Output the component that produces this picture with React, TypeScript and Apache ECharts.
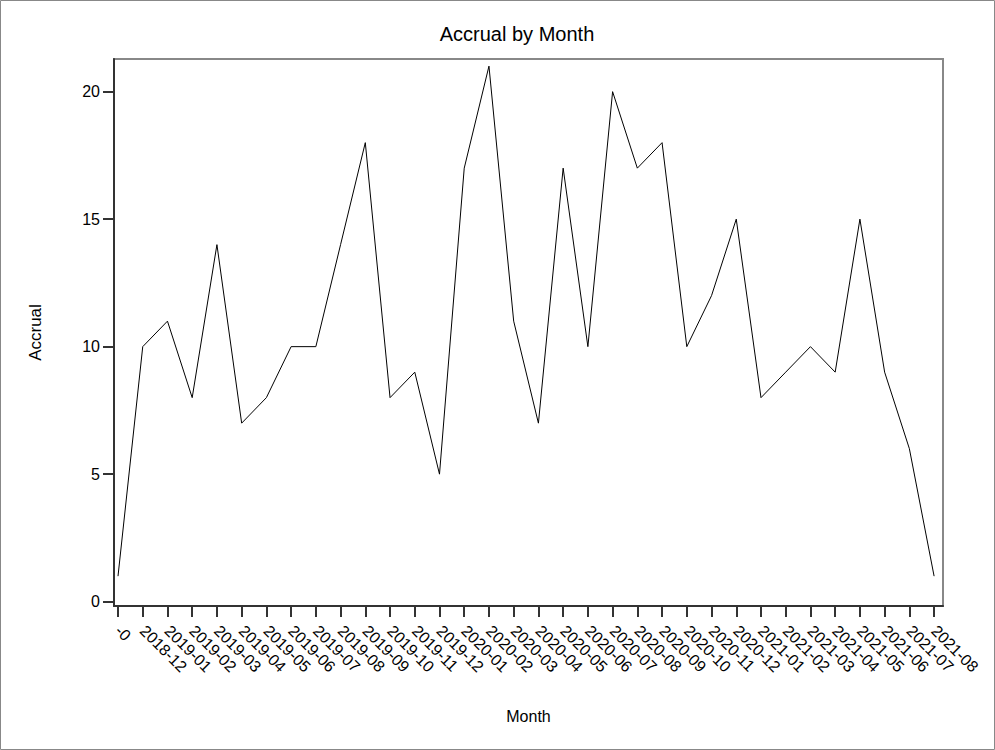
import React, { useEffect, useRef } from "react";
import * as echarts from "echarts";

const categories: string[] = [
  "-0",
  "2018-12",
  "2019-01", "2019-02", "2019-03", "2019-04", "2019-05", "2019-06",
  "2019-07", "2019-08", "2019-09", "2019-10", "2019-11", "2019-12",
  "2020-01", "2020-02", "2020-03", "2020-04", "2020-05", "2020-06",
  "2020-07", "2020-08", "2020-09", "2020-10", "2020-11", "2020-12",
  "2021-01", "2021-02", "2021-03", "2021-04", "2021-05", "2021-06",
  "2021-07", "2021-08",
];

const accrual: number[] = [
  1, 10, 11, 8, 14, 7, 8, 10, 10, 14, 18, 8, 9, 5, 17, 21, 11, 7, 17, 10,
  20, 17, 18, 10, 12, 15, 8, 9, 10, 9, 15, 9, 6, 1,
];

const yTicks: number[] = [0, 5, 10, 15, 20];

const FONT = "'Liberation Sans', Arial, Helvetica, sans-serif";

export default function App() {
  const ref = useRef<HTMLDivElement>(null);

  useEffect(() => {
    document.body.style.margin = "0";
    if (!ref.current) return;
    const chart = echarts.init(ref.current, undefined, { renderer: "svg" });
    const idx = categories.map((_, i) => i);
    chart.setOption({
      animation: false,
      backgroundColor: "#ffffff",
      textStyle: { fontFamily: FONT },
      grid: { left: 114, top: 59, right: 52, bottom: 144, containLabel: false },
      title: {
        text: "Accrual by Month",
        left: 512,
        top: 19,
        textAlign: "center",
        textStyle: { fontFamily: FONT, fontSize: 20, fontWeight: "normal", color: "#000" },
      },
      graphic: [
        {
          type: "rect",
          shape: { x: 0.5, y: 0.5, width: 994, height: 749 },
          style: { fill: "none", stroke: "#888", lineWidth: 1 },
          silent: true,
          z: -10,
        },
        {
          type: "rect",
          shape: { x: 114, y: 59, width: 829, height: 547 },
          style: { fill: "none", stroke: "#888", lineWidth: 2 },
          silent: true,
          z: -5,
        },
      ],
      xAxis: {
        type: "value",
        min: -0.162,
        max: 33.36,
        name: "Month",
        nameLocation: "middle",
        nameGap: 102,
        nameTextStyle: { fontFamily: FONT, fontSize: 16, color: "#000" },
        axisLine: { show: true, onZero: false, lineStyle: { color: "#333", width: 2 } },
        axisTick: { show: true, length: 11, customValues: idx, lineStyle: { color: "#333", width: 2 } },
        axisLabel: {
          customValues: idx,
          rotate: -45,
          margin: 22,
          fontSize: 16,
          color: "#000",
          fontFamily: FONT,
          formatter: (v: number) => categories[Math.round(v)] ?? "",
        },
        splitLine: { show: false },
      },
      yAxis: {
        type: "value",
        min: -0.17,
        max: 21.28,
        name: "Accrual",
        nameLocation: "middle",
        nameRotate: 90,
        nameGap: 70,
        nameTextStyle: { fontFamily: FONT, fontSize: 17, color: "#000" },
        axisLine: { show: true, onZero: false, lineStyle: { color: "#333", width: 2 } },
        axisTick: { show: true, length: 11, customValues: yTicks, lineStyle: { color: "#333", width: 2 } },
        axisLabel: {
          customValues: yTicks,
          margin: 14,
          fontSize: 16,
          color: "#000",
          fontFamily: FONT,
        },
        splitLine: { show: false },
      },
      series: [
        {
          type: "line",
          data: accrual.map((v, i) => [i, v]),
          showSymbol: false,
          symbol: "none",
          lineStyle: { color: "#000", width: 1 },
          itemStyle: { color: "#000" },
        },
      ],
    });
    return () => chart.dispose();
  }, []);

  return <div ref={ref} style={{ width: 995, height: 750 }} />;
}
